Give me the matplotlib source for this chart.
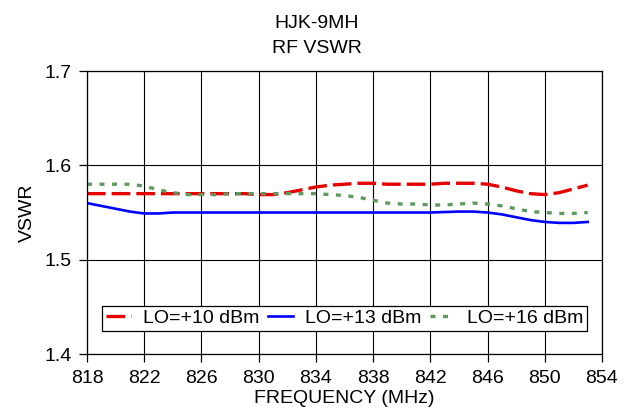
import matplotlib
matplotlib.use("Agg")
import matplotlib.pyplot as plt

freq = list(range(818, 854))

lo10 = [1.570, 1.570, 1.570, 1.570, 1.570, 1.570, 1.570, 1.570, 1.570, 1.570,
        1.570, 1.570, 1.569, 1.569, 1.571, 1.574, 1.577, 1.579, 1.580, 1.581,
        1.581, 1.580, 1.580, 1.580, 1.580, 1.581, 1.581, 1.581, 1.580, 1.577,
        1.573, 1.570, 1.569, 1.571, 1.575, 1.579]

lo13 = [1.560, 1.557, 1.554, 1.551, 1.549, 1.549,
        1.550, 1.550, 1.550, 1.550, 1.550, 1.550, 1.550, 1.550, 1.550, 1.550,
        1.550, 1.550, 1.550, 1.550, 1.550, 1.550, 1.550, 1.550, 1.550,
        1.5505, 1.551, 1.551, 1.550, 1.548, 1.545, 1.542, 1.540, 1.539, 1.539,
        1.540]

lo16 = [1.580, 1.580, 1.580, 1.580, 1.578, 1.574, 1.571, 1.569, 1.569, 1.569,
        1.570, 1.570, 1.570, 1.570, 1.570, 1.570, 1.570, 1.569, 1.568, 1.566,
        1.563, 1.560, 1.559, 1.559, 1.558, 1.558, 1.559, 1.560, 1.559, 1.557,
        1.554, 1.551, 1.550, 1.549, 1.549, 1.550]

labels = ['LO=+10 dBm', 'LO=+13 dBm', 'LO=+16 dBm']
xticks = list(range(818, 855, 4))
yticks = [1.4, 1.5, 1.6, 1.7]

plt.rcParams['font.family'] = ['Liberation Sans', 'DejaVu Sans']
plt.rcParams['font.size'] = 14

fig = plt.figure(figsize=(6.34, 4.16), dpi=100)
ax = fig.add_axes([0.1372, 0.149, 0.8123, 0.6803])

ax.plot(freq, lo10, color='#E60000', lw=2.4, dashes=(5.6, 1.8), label=labels[0])
ax.plot(freq, lo13, color='#0000FF', lw=1.9, label=labels[1])
ax.plot(freq, lo16, color='#5E9A5E', lw=2.4, dashes=(1.5, 2.25), label=labels[2])

ax.set_xlim(818, 854)
ax.set_ylim(1.4, 1.7)
ax.set_xticks(xticks)
ax.set_yticks(yticks)
ax.set_yticklabels([f'{v:.1f}' for v in yticks])
ax.grid(True, color='black', lw=0.8)
ax.set_axisbelow(True)
for s in ax.spines.values():
    s.set_color('black')
    s.set_linewidth(0.9)
ax.tick_params(axis='both', direction='out', length=6, width=0.9, colors='black')
ax.tick_params(axis='x', pad=5.5)
ax.tick_params(axis='y', pad=5)

ax.set_xlabel('FREQUENCY (MHz)')
ax.set_ylabel('VSWR')
ax.xaxis.set_label_coords(0.5, -0.128)
ax.yaxis.set_label_coords(-0.099, 0.5)

fig.text(0.5, 0.932, 'HJK-9MH', ha='center', va='baseline')
fig.text(0.5, 0.872, 'RF VSWR', ha='center', va='baseline')

leg = ax.legend(loc='lower left', bbox_to_anchor=(0.029, 0.081), borderaxespad=0,
                ncol=3, fancybox=False, framealpha=1, edgecolor='black',
                handlelength=1.3, handletextpad=0.6, columnspacing=0.45,
                borderpad=0.2)
leg.get_frame().set_linewidth(0.9)

fig.savefig('out.png', dpi=100)
